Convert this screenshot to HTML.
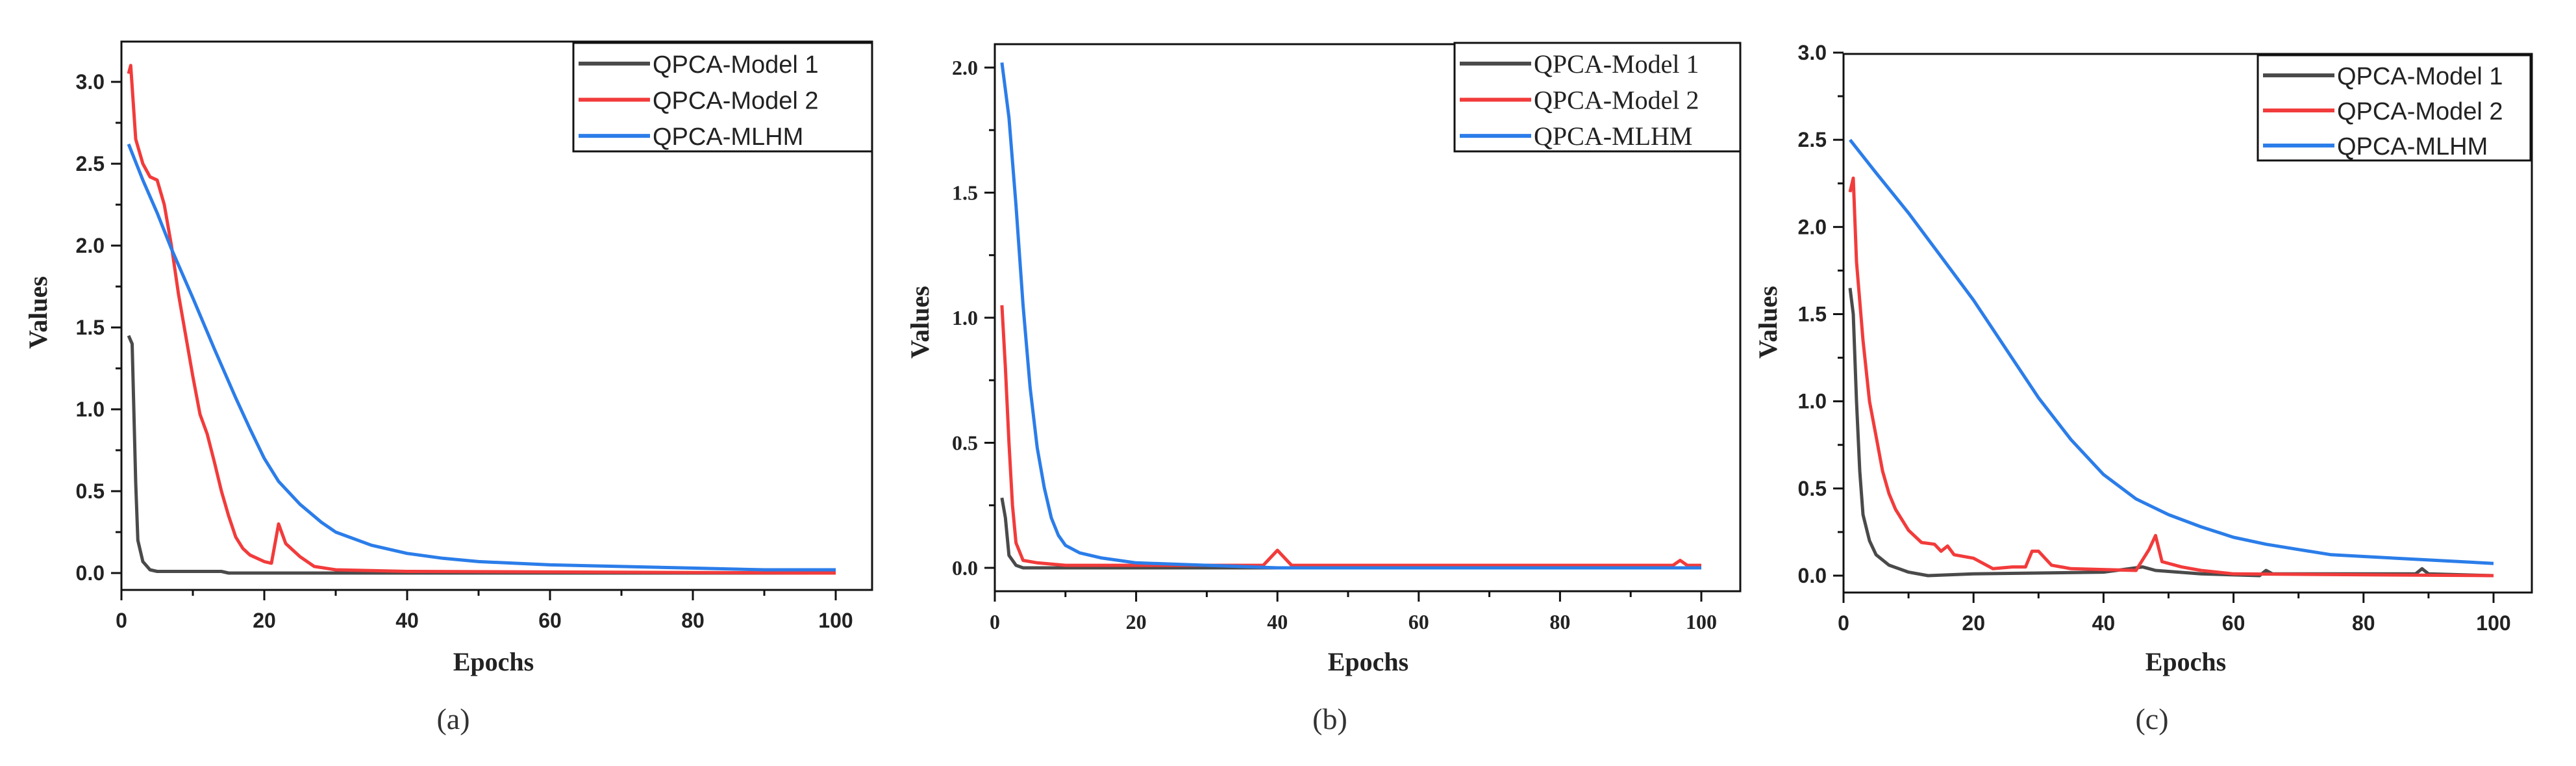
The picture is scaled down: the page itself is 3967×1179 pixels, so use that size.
<!DOCTYPE html>
<html><head><meta charset="utf-8"><style>
html,body{margin:0;padding:0;background:#fff}
svg{display:block}
</style></head><body>
<svg id="fig" width="3967" height="1179" viewBox="0 0 3967 1179" xmlns="http://www.w3.org/2000/svg"></svg>
<script>
// ---------- DATA ----------
const ticksX = [0,20,40,60,80,100];
const seriesNames = ["QPCA-Model 1","QPCA-Model 2","QPCA-MLHM"];

const aModel1 = [[1,1.45],[1.5,1.4],[2,0.55],[2.3,0.2],[3,0.07],[4,0.02],[5,0.01],[14,0.01],[15,0],[100,0]];
const aModel2 = [[1,3.05],[1.3,3.1],[2,2.65],[3,2.5],[4,2.42],[5,2.4],[6,2.25],[7,2.0],[8,1.7],[9,1.45],[10,1.2],[11,0.97],[12,0.85],[13,0.68],[14,0.5],[15,0.35],[16,0.22],[17,0.15],[18,0.11],[20,0.07],[21,0.06],[22,0.3],[23,0.18],[25,0.1],[27,0.04],[30,0.02],[40,0.01],[100,0]];
const aMLHM  = [[1,2.62],[3,2.4],[5,2.2],[7,1.98],[10,1.68],[13,1.37],[16,1.07],[18,0.88],[20,0.7],[22,0.56],[25,0.42],[28,0.31],[30,0.25],[35,0.17],[40,0.12],[45,0.09],[50,0.07],[60,0.05],[70,0.04],[80,0.03],[90,0.02],[100,0.02]];
const aTicksY = [0,0.5,1,1.5,2,2.5,3];
const aTickLabels = ["0.0","0.5","1.0","1.5","2.0","2.5","3.0"];

const bModel1 = [[1,0.28],[1.5,0.2],[2,0.05],[3,0.01],[4,0],[100,0]];
const bModel2 = [[1,1.05],[1.5,0.8],[2,0.5],[2.5,0.25],[3,0.1],[4,0.03],[6,0.02],[10,0.01],[38,0.01],[40,0.07],[42,0.01],[91,0.01],[96,0.01],[97,0.03],[98,0.01],[100,0.01]];
const bMLHM  = [[1,2.02],[2,1.8],[3,1.45],[4,1.05],[5,0.72],[6,0.48],[7,0.32],[8,0.2],[9,0.13],[10,0.09],[12,0.06],[15,0.04],[20,0.02],[30,0.01],[40,0],[100,0]];
const bTicksY = [0,0.5,1,1.5,2];
const bTickLabels = ["0.0","0.5","1.0","1.5","2.0"];

const cModel1 = [[1,1.65],[1.5,1.5],[2,1.0],[2.5,0.6],[3,0.35],[4,0.2],[5,0.12],[7,0.06],[10,0.02],[13,0],[20,0.01],[40,0.02],[46,0.05],[48,0.03],[55,0.01],[64,0],[65,0.03],[66,0.01],[88,0.01],[89,0.04],[90,0.01],[100,0]];
const cModel2 = [[1,2.2],[1.5,2.28],[2,1.8],[3,1.35],[4,1.0],[5,0.8],[6,0.6],[7,0.47],[8,0.38],[10,0.26],[12,0.19],[14,0.18],[15,0.14],[16,0.17],[17,0.12],[20,0.1],[23,0.04],[26,0.05],[28,0.05],[29,0.14],[30,0.14],[32,0.06],[35,0.04],[45,0.03],[47,0.15],[48,0.23],[49,0.08],[52,0.05],[55,0.03],[60,0.01],[100,0]];
const cMLHM  = [[1,2.5],[5,2.31],[10,2.08],[15,1.83],[20,1.58],[25,1.3],[30,1.02],[35,0.78],[40,0.58],[45,0.44],[50,0.35],[55,0.28],[60,0.22],[65,0.18],[70,0.15],[75,0.12],[80,0.11],[90,0.09],[100,0.07]];
const cTicksY = [0,0.5,1,1.5,2,2.5,3];
const cTickLabels = ["0.0","0.5","1.0","1.5","2.0","2.5","3.0"];

// ---------- DRAW ----------
const NS="http://www.w3.org/2000/svg";
const svg=document.getElementById('fig');
const colors=["#4a4a4a","#f23b3b","#2b7de9"];
function mk(tag,attrs,parent){const e=document.createElementNS(NS,tag);for(const k in attrs)e.setAttribute(k,attrs[k]);(parent||svg).appendChild(e);return e;}

function panel(cfg){
  const g=mk('g',{});
  
  
  const sx=v=>cfg.x0+(v-0)/100*(cfg.x100-cfg.x0);
  const sy=v=>cfg.y0-(v)*cfg.pu;
  // series
  cfg.series.forEach((s,i)=>{
    const p=mk('polyline',{points:s.map(d=>sx(d[0]).toFixed(1)+','+sy(d[1]).toFixed(1)).join(' '),fill:'none',stroke:colors[i],'stroke-width':5,'stroke-linejoin':'round'},g);
    
    
  });
  // frame
  const fr=mk('rect',{x:cfg.L,y:cfg.T,width:cfg.R-cfg.L,height:cfg.B-cfg.T,fill:'none',stroke:'#111','stroke-width':3},g);
  
  
  // x ticks
  const xa=mk('g',{},g);
  
  
  for(let v=0;v<=100;v+=10){
    mk('line',{x1:sx(v),x2:sx(v),y1:cfg.B,y2:cfg.B+(v%20===0?16:9),stroke:'#111','stroke-width':3},xa);
  }
  ticksX.forEach(v=>{
    const t=mk('text',{x:sx(v),y:cfg.B+58,'text-anchor':'middle','font-size':cfg.tfs,'font-weight':'bold','font-family':cfg.tfont,fill:'#222'},xa);
    t.textContent=v;
    
    
  });
  // y ticks
  const ya=mk('g',{},g);
  
  
  cfg.ticksY.forEach((v,i)=>{
    mk('line',{x1:cfg.L-16,x2:cfg.L,y1:sy(v),y2:sy(v),stroke:'#111','stroke-width':3},ya);
    const m=v+0.25; if(sy(m)>cfg.T) mk('line',{x1:cfg.L-9,x2:cfg.L,y1:sy(m),y2:sy(m),stroke:'#111','stroke-width':3},ya);
    const t=mk('text',{x:cfg.L-26,y:sy(v)+11,'text-anchor':'end','font-size':cfg.tfs,'font-weight':'bold','font-family':cfg.tfont,fill:'#222'},ya);
    t.textContent=cfg.tickLabels[i];
    
    
  });
  // axis titles
  const xt=mk('text',{x:cfg.ex,y:1032,'text-anchor':'middle','font-size':40,'font-weight':'bold','font-family':'Liberation Serif, serif',fill:'#222'},g);
  xt.textContent='Epochs';
  
  
  const yt=mk('text',{x:0,y:0,'text-anchor':'middle','font-size':40,'font-weight':'bold','font-family':'Liberation Serif, serif',fill:'#222',transform:`translate(${cfg.vx},${cfg.vy}) rotate(-90)`},g);
  yt.textContent='Values';
  
  
  const cap=mk('text',{x:cfg.capx,y:1122,'text-anchor':'middle','font-size':46,'font-family':'Liberation Serif, serif',fill:'#333'},g);
  cap.textContent='('+cfg.id+')';
  
  
  // legend
  const lg=mk('g',{},g);
  
  
  mk('rect',{x:cfg.lx,y:cfg.ly,width:cfg.lw,height:cfg.lh,fill:'#fff',stroke:'#111','stroke-width':3},lg);
  const rh=cfg.lh/3;
  seriesNames.forEach((n,i)=>{
    const cy=cfg.ly+rh*(i+0.5)+4;
    mk('line',{x1:cfg.lx+8,x2:cfg.lx+118,y1:cy,y2:cy,stroke:colors[i],'stroke-width':6},lg);
    const t=mk('text',{x:cfg.lx+122,y:cy+14,'font-size':cfg.lfs,'font-family':cfg.lfont,fill:'#222'},lg);
    t.textContent=n;
    
    
  });
}

panel({id:'a',L:187,R:1343,T:64,B:908,x0:187,x100:1287,y0:882,pu:(882-126)/3,
  series:[aModel1,aModel2,aMLHM],ticksY:aTicksY,tickLabels:aTickLabels,
  tfs:32,tfont:'Liberation Sans, sans-serif',ex:760,vx:72,vy:481,capx:698,
  lx:883,ly:66,lw:460,lh:167,lfs:38,lfont:'Liberation Sans, sans-serif'});
panel({id:'b',L:1532,R:2680,T:68,B:910,x0:1532,x100:2620,y0:874,pu:(874-104)/2,
  series:[bModel1,bModel2,bMLHM],ticksY:bTicksY,tickLabels:bTickLabels,
  tfs:32,tfont:'Liberation Serif, serif',ex:2107,vx:1430,vy:496,capx:2048,
  lx:2240,ly:66,lw:440,lh:167,lfs:40,lfont:'Liberation Serif, serif'});
panel({id:'c',L:2839,R:3899,T:83,B:912,x0:2839,x100:3840,y0:886,pu:(886-81)/3,
  series:[cModel1,cModel2,cMLHM],ticksY:cTicksY,tickLabels:cTickLabels,
  tfs:32,tfont:'Liberation Sans Narrow, Liberation Sans, sans-serif',ex:3366,vx:2736,vy:496,capx:3314,
  lx:3477,ly:85,lw:420,lh:162,lfs:38,lfont:'Liberation Sans, sans-serif'});
</script>
</body></html>
